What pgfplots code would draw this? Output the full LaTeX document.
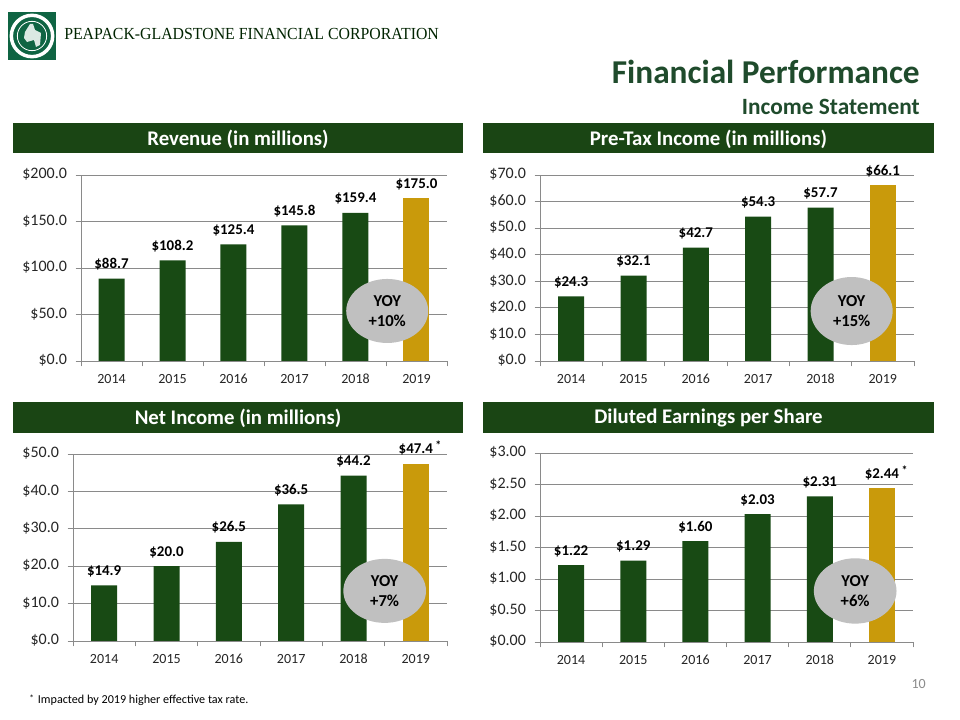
\documentclass[border=0pt]{standalone}
\usepackage{pgfplots}
\pgfplotsset{compat=1.18}
\usepackage{graphicx}
\usepackage{fontspec}
\setmainfont{Carlito}
\newfontfamily\logofont{Liberation Serif}
\usetikzlibrary{shapes.geometric}
\definecolor{bargreen}{HTML}{184A14}
\definecolor{hdrgreen}{HTML}{1A4514}
\definecolor{gold}{HTML}{C99A0B}
\definecolor{titlegreen}{HTML}{1F4B2C}
\definecolor{gridgray}{HTML}{8A8A8A}
\definecolor{ellgray}{HTML}{C0C0C0}
\definecolor{txt}{HTML}{262626}
\definecolor{logogreen}{HTML}{0F6443}
\tikzset{
  yoy/.style={ellipse, fill=ellgray, inner sep=0pt, align=center, font=\bfseries\fontsize{12.5}{15}\selectfont, text=black},
}
\pgfplotsset{
  panel/.style={
    scale only axis, anchor=north west, clip=false,
    xmin=-0.5, xmax=5.5, ymin=0,
    axis x line*=bottom, axis y line*=left,
    axis line style={draw=gridgray, line width=0.6pt},
    ymajorgrids, grid style={draw=gridgray, line width=0.6pt},
    tick align=outside, major tick length=4pt,
    tick style={draw=gridgray, line width=0.6pt},
    xtick={-0.5,0.5,1.5,2.5,3.5,4.5,5.5},
    xticklabels={,,,,,,},
    extra x ticks={0,1,2,3,4,5},
    extra x tick labels={2014,2015,2016,2017,2018,2019},
    extra x tick style={major tick length=0pt, tick style={draw=none}},
    typeset ticklabels with strut,
    x tick label style={font=\fontsize{10.5}{12}\selectfont, text=txt, anchor=north, yshift=-5pt},
    y tick label style={font=\fontsize{12}{14}\selectfont, text=txt, xshift=-3pt},
    nodes near coords, point meta=explicit symbolic,
    nodes near coords style={font=\bfseries\fontsize{11.2}{13}\selectfont, text=black, anchor=base, yshift=7.5pt},
  },
  gbar/.style={ybar, fill=bargreen, draw=none, bar width=19.5pt, bar shift=0pt},
  ybarg/.style={ybar, fill=gold, draw=none, bar width=19.5pt, bar shift=0pt},
}
\begin{document}
\begin{tikzpicture}
\begin{scope}[x=0.75pt, y=-0.75pt]
\path[use as bounding box, fill=white] (0,0) rectangle (960,720);
% logo
\fill[logogreen] (8,12) rectangle (56,60);
\draw[white, line width=2.6pt] (32,36) circle (15.5pt);
\draw[white, line width=0.6pt] (32,36) circle (11pt);
\fill[white!85!logogreen] (25,32) -- (30,24) -- (33,24) -- (35,30) -- (41,33) -- (40,45) -- (36,47) -- (34,40) -- (27,42) -- (24,38) -- cycle;
\node[anchor=base west, inner sep=0pt, text=black!80!green!70!black] at (64,40)
  {\resizebox{281pt}{8.4pt}{\logofont PEAPACK-GLADSTONE FINANCIAL CORPORATION}};
% titles
\node[anchor=base east, inner sep=0pt, text=titlegreen, font=\bfseries\fontsize{25}{28}\selectfont] at (920,84) {Financial Performance};
\node[anchor=base east, inner sep=0pt, text=titlegreen, font=\bfseries\fontsize{17.5}{20}\selectfont] at (920,115) {Income Statement};
% headers
\fill[hdrgreen] (13,123) rectangle (463,153);
\fill[hdrgreen] (483,123) rectangle (934,153);
\fill[hdrgreen] (13,402) rectangle (463,433);
\fill[hdrgreen] (483,402) rectangle (934,433);
\node[text=white, font=\bfseries\fontsize{15.6}{18}\selectfont] at (238,139) {Revenue (in millions)};
\node[text=white, font=\bfseries\fontsize{15.6}{18}\selectfont] at (708.5,139) {Pre-Tax Income (in millions)};
\node[text=white, font=\bfseries\fontsize{15.6}{18}\selectfont] at (238,418) {Net Income (in millions)};
\node[text=white, font=\bfseries\fontsize{15.6}{18}\selectfont] at (708.5,418) {Diluted Earnings per Share};
% footnote and page number
\node[anchor=base west, inner sep=0pt, font=\fontsize{9.1}{11}\selectfont, text=black] at (29,703) {\raisebox{1.5pt}{\fontsize{7}{7}\selectfont *}\hspace{3pt}Impacted by 2019 higher effective tax rate.};
\node[anchor=base east, inner sep=0pt, font=\fontsize{10.5}{12}\selectfont, text=black!45] at (926,688) {10};
\end{scope}

% Revenue
\begin{axis}[panel, at={({81*0.75pt},{-175*0.75pt})}, width=274.5pt, height=139.5pt,
  ymax=200, ytick={0,50,100,150,200}, yticklabels={\$0.0,\$50.0,\$100.0,\$150.0,\$200.0}]
\addplot[gbar] coordinates {(0,88.7) [\$88.7] (1,108.2) [\$108.2] (2,125.4) [\$125.4] (3,145.8) [\$145.8] (4,159.4) [\$159.4]};
\addplot[ybarg] coordinates {(5,175.0) [\$175.0]};
\node[yoy, minimum width=61.5pt, minimum height=48pt] at (axis cs:4.52,53.8) {YOY\\+10\%};
\end{axis}

% Pre-tax income
\begin{axis}[panel, at={({540*0.75pt},{-175*0.75pt})}, width=280.5pt, height=139.5pt,
  ymax=70, ytick={0,10,20,30,40,50,60,70}, yticklabels={\$0.0,\$10.0,\$20.0,\$30.0,\$40.0,\$50.0,\$60.0,\$70.0}]
\addplot[gbar] coordinates {(0,24.3) [\$24.3] (1,32.1) [\$32.1] (2,42.7) [\$42.7] (3,54.3) [\$54.3] (4,57.7) [\$57.7]};
\addplot[ybarg] coordinates {(5,66.1) [\$66.1]};
\node[yoy, minimum width=61.5pt, minimum height=51pt] at (axis cs:4.5,18.8) {YOY\\+15\%};
\end{axis}

% Net income
\begin{axis}[panel, at={({73*0.75pt},{-454*0.75pt})}, width=280.5pt, height=140.25pt,
  ymax=50, ytick={0,10,20,30,40,50}, yticklabels={\$0.0,\$10.0,\$20.0,\$30.0,\$40.0,\$50.0}]
\addplot[gbar] coordinates {(0,14.9) [\$14.9] (1,20.0) [\$20.0] (2,26.5) [\$26.5] (3,36.5) [\$36.5] (4,44.2) [\$44.2]};
\addplot[ybarg] coordinates {(5,47.4) [\$47.4\rlap{\,\raisebox{3pt}{\fontsize{9}{9}\selectfont *}}]};
\node[yoy, minimum width=62pt, minimum height=48pt] at (axis cs:4.5,13.4) {YOY\\+7\%};
\end{axis}

% EPS
\begin{axis}[panel, at={({540*0.75pt},{-453*0.75pt})}, width=279.75pt, height=141.75pt,
  ymax=3, ytick={0,0.5,1,1.5,2,2.5,3}, yticklabels={\$0.00,\$0.50,\$1.00,\$1.50,\$2.00,\$2.50,\$3.00}]
\addplot[gbar] coordinates {(0,1.22) [\$1.22] (1,1.29) [\$1.29] (2,1.60) [\$1.60] (3,2.03) [\$2.03] (4,2.31) [\$2.31]};
\addplot[ybarg] coordinates {(5,2.44) [\$2.44\rlap{\,\raisebox{3pt}{\fontsize{9}{9}\selectfont *}}]};
\node[yoy, minimum width=62pt, minimum height=49pt] at (axis cs:4.57,0.81) {YOY\\+6\%};
\end{axis}
\end{tikzpicture}
\end{document}
